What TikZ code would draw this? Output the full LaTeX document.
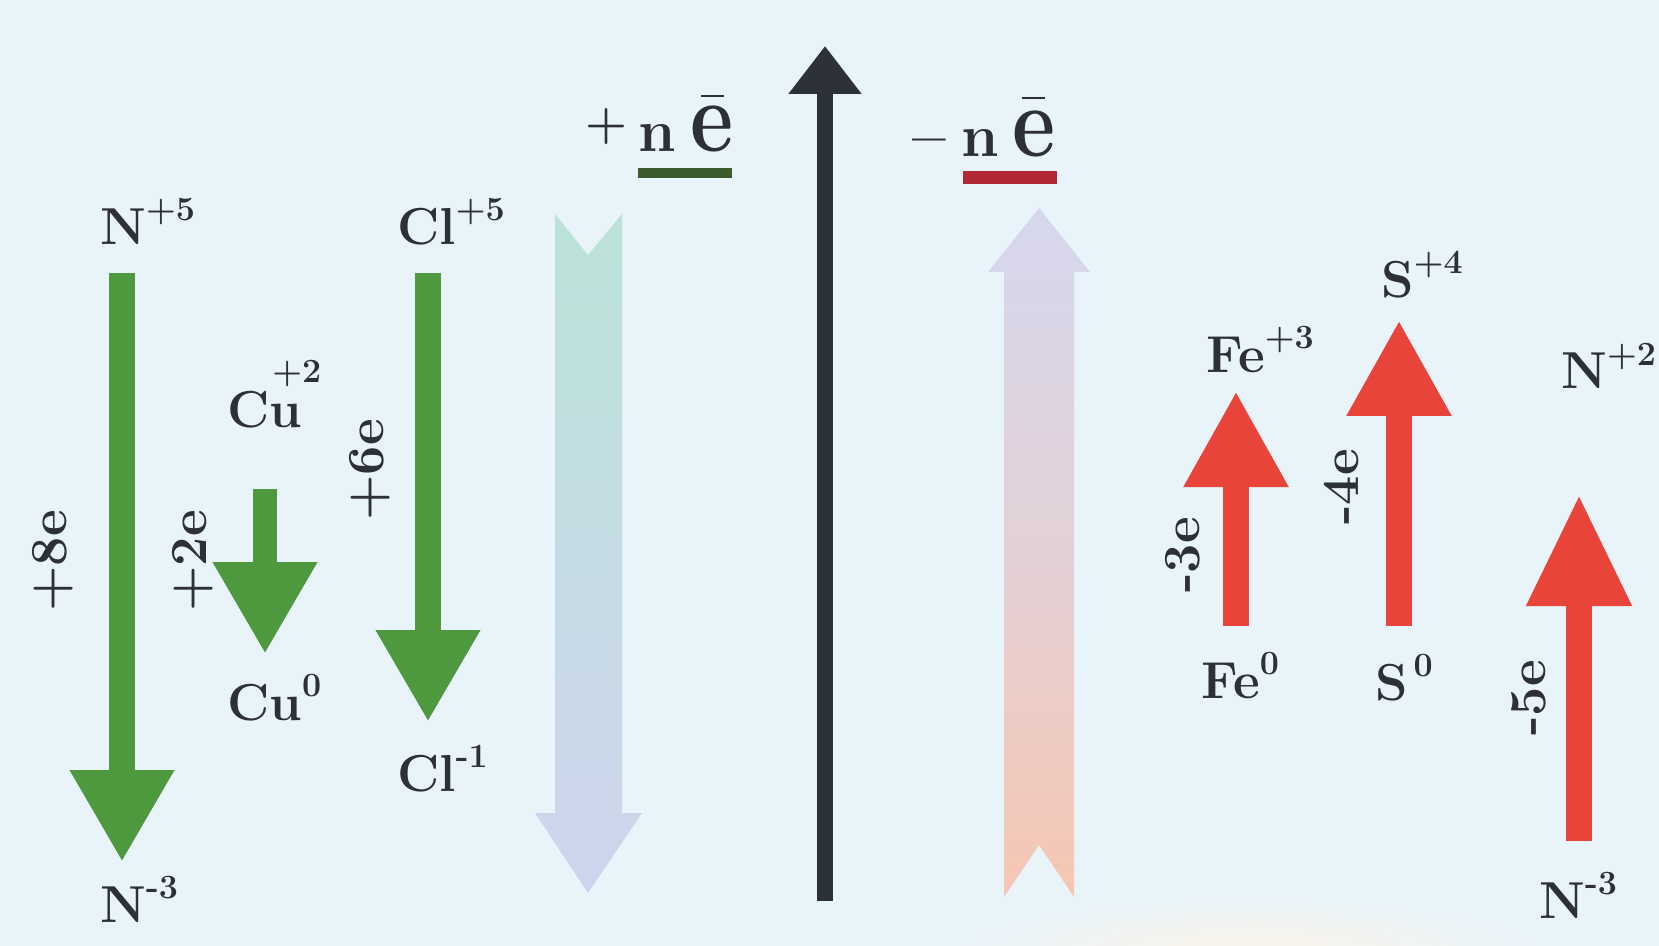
\documentclass[tikz,border=0pt]{standalone}
\usetikzlibrary{arrows.meta}
\definecolor{bg}{RGB}{233,244,250}
\definecolor{garr}{RGB}{78,152,62}
\definecolor{rarr}{RGB}{232,68,58}
\definecolor{karr}{RGB}{44,50,56}
\definecolor{txt}{RGB}{45,48,52}
\definecolor{gul}{RGB}{60,92,45}
\definecolor{rul}{RGB}{178,40,55}
\definecolor{fadeg}{RGB}{186,226,216}
\definecolor{fadeb}{RGB}{206,212,238}
\definecolor{fadel}{RGB}{214,215,238}
\definecolor{fadep}{RGB}{246,198,178}
\definecolor{peachbg}{RGB}{250,243,232}
\newcommand{\el}[2]{#1\raisebox{12pt}{\fontsize{17}{20}\selectfont #2}}
\begin{document}
\begin{tikzpicture}[x=0.5pt,y=-0.5pt,
  lbl/.style={inner sep=0pt, anchor=base west, text=txt, font=\fontsize{26}{30}\selectfont\bfseries},
  rlbl/.style={inner sep=0pt, rotate=90, text=txt, font=\fontsize{26}{30}\selectfont\bfseries},
  garrow/.style={draw=garr, line width=13pt, -{Triangle[width=49pt,length=46pt]}},
  rarrow/.style={draw=rarr, line width=13pt, -{Triangle[width=49pt,length=48pt]}},
  karrow/.style={draw=karr, line width=8pt, -{Triangle[width=35pt,length=24pt]}},
  bigtxt/.style={inner sep=0pt, anchor=base west, text=txt, font=\fontsize{30}{34}\selectfont\bfseries}]
\useasboundingbox (0,0) rectangle (1659,946);
\fill[bg] (0,0) rectangle (1659,946);
\shade[inner color=peachbg, outer color=bg] (1250,950) ellipse (300 and 55);

% faded arrows
\shade[top color=fadeg, bottom color=fadeb]
  (555,214) -- (588,255) -- (622,214) -- (622,813) -- (642,813) -- (588,893) -- (535,813) -- (555,813) -- cycle;
\shade[top color=fadel, bottom color=fadep, middle color=fadel!60!fadep]
  (1039,208) -- (1090,272) -- (1074,272) -- (1074,897) -- (1039,845) -- (1004,897) -- (1004,272) -- (988,272) -- cycle;

% black axis arrow
\coordinate (k1) at (825,901);
\coordinate (k2) at (825,46);
\draw[karrow] (k1) -- (k2);

% +ne / -ne
\node[bigtxt, anchor=center, font=\fontsize{24}{28}\selectfont\bfseries] (pl) at (606,127) {+};
\node[bigtxt] (pn) at (638,152) {n};
\node[bigtxt, font=\fontsize{42}{46}\selectfont\bfseries] (pe) at (690,152) {\scalebox{1}[1.2]{e}};
\draw[txt, line width=1.3pt] (701,96) -- (724,96);
\fill[gul] (638,168) rectangle (732,178);

\node[bigtxt] (mi) at (912,157) {\textendash};
\node[bigtxt] (mn) at (961,157) {n};
\node[bigtxt, font=\fontsize{42}{46}\selectfont\bfseries] (me) at (1012,157) {\scalebox{1}[1.2]{e}};
\draw[txt, line width=1.3pt] (1022,98) -- (1045,98);
\fill[rul] (963,171) rectangle (1057,184);

% left group labels
\node[lbl] (N5) at (100,245) {\el{N}{+5}};
\node[lbl] (N3a) at (100,922) {\el{N}{-3}};
\node[lbl] (Cu2) at (227,428) {Cu};
\node[inner sep=0pt, anchor=base west, text=txt, font=\fontsize{17}{20}\selectfont\bfseries] (Cu2s) at (272,383) {+2};
\node[lbl] (Cu0) at (227,720) {\el{Cu}{0}};
\node[lbl] (Cl5) at (397,245) {\el{Cl}{+5}};
\node[lbl] (Cl1) at (397,791) {\el{Cl}{-1}};

\node[rlbl] (e8) at (53,561) {+8e};
\node[rlbl] (e2) at (193,561) {+2e};
\node[rlbl] (e6) at (370,470) {+6e};

% green arrows
\coordinate (gA1) at (122,273); \coordinate (gA2) at (122,862);
\coordinate (gB1) at (265,489); \coordinate (gB2) at (265,654);
\coordinate (gC1) at (428,273); \coordinate (gC2) at (428,722);
\draw[garrow] (gA1) -- (gA2);
\draw[garrow, line width=12pt] (gB1) -- (gB2);
\draw[garrow] (gC1) -- (gC2);

% right group labels
\node[lbl] (Fe3) at (1206,372) {\el{Fe}{+3}};
\node[lbl] (Fe0) at (1201,698) {\el{Fe}{0}};
\node[lbl] (S4) at (1381,298) {\el{S}{+4}};
\node[lbl] (S0) at (1375,700) {\el{S}{\,0}};
\node[lbl] (N2) at (1561,389) {\el{N}{+2}};
\node[lbl] (N3b) at (1539,918) {\el{N}{-3}};

\node[rlbl] (e3) at (1183,555) {-3e};
\node[rlbl] (e4) at (1342,487) {-4e};
\node[rlbl] (e5) at (1529,698) {-5e};

% red arrows
\coordinate (rA1) at (1236,626); \coordinate (rA2) at (1236,391);
\coordinate (rB1) at (1399,626); \coordinate (rB2) at (1399,320);
\coordinate (rC1) at (1579,841); \coordinate (rC2) at (1579,494);
\draw[rarrow] (rA1) -- (rA2);
\draw[rarrow] (rB1) -- (rB2);
\draw[rarrow, -{Triangle[width=49pt,length=56pt]}] (rC1) -- (rC2);
\end{tikzpicture}
\end{document}
